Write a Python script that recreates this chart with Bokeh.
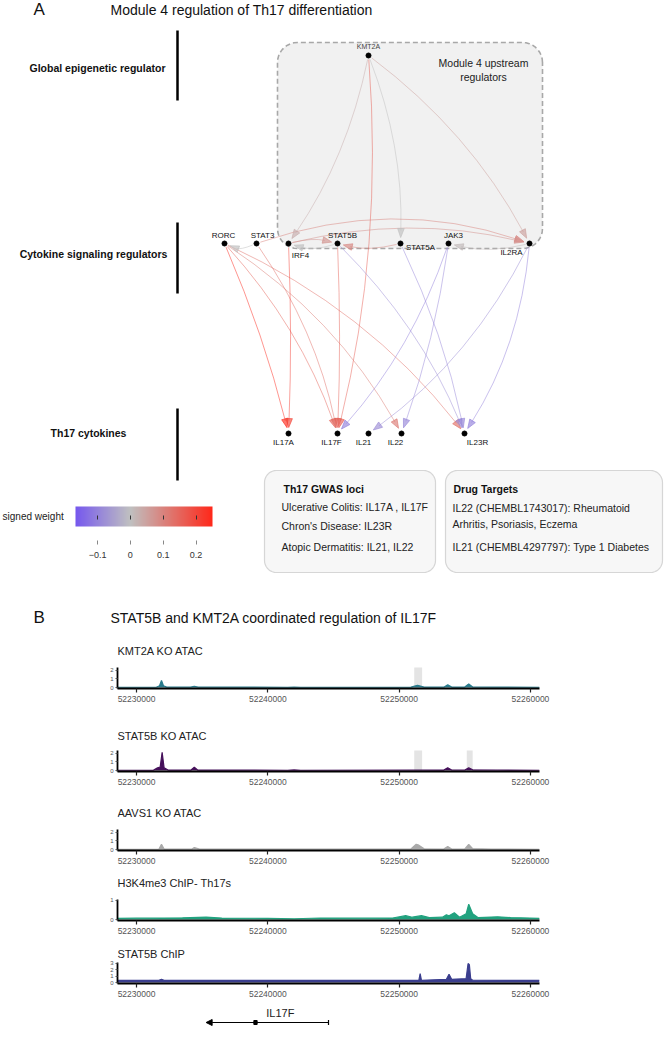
import numpy as np
from bokeh.plotting import figure
from bokeh.models import (ColumnDataSource, Range1d, LinearColorMapper, ColorBar,
                          FixedTicker, BasicTickFormatter, Label, BoxAnnotation,
                          Arrow, NormalHead)
from bokeh.layouts import column
from bokeh.transform import transform
from bokeh.core.properties import value
from bokeh.embed import file_html
from bokeh.resources import INLINE

FONT = "Liberation Sans"

# ------------------------------------------------------------------ data: panel A
panel_a_title = "Module 4 regulation of Th17 differentiation"
tier_labels = ["Global epigenetic regulator", "Cytokine signaling regulators", "Th17 cytokines"]
module_label = ["Module 4 upstream", "regulators"]
node_names = ["KMT2A", "RORC", "STAT3", "IRF4", "STAT5B", "STAT5A", "JAK3", "IL2RA",
              "IL17A", "IL17F", "IL21", "IL22", "IL23R"]
edge_src = ["KMT2A", "KMT2A", "KMT2A", "KMT2A", "IRF4", "STAT5A", "STAT3", "IRF4",
            "IL2RA", "STAT3", "STAT5B", "RORC", "RORC", "RORC", "RORC", "STAT3",
            "IRF4", "STAT5B", "STAT5B", "STAT5A", "JAK3", "JAK3", "IL2RA", "IL2RA"]
edge_tgt = ["IRF4", "STAT5A", "IL2RA", "IL17F", "STAT5B", "STAT5B", "IL2RA", "IL2RA",
            "JAK3", "RORC", "IRF4", "IL17A", "IL17F", "IL22", "IL23R", "IL17F",
            "IL17A", "IL17F", "IL23R", "IL23R", "IL17F", "IL22", "IL21", "IL23R"]
edge_weight = [0.03, 0.0, 0.05, 0.16, 0.07, 0.09, 0.10, 0.08,
               0.01, 0.0, 0.0, 0.24, 0.15, 0.11, 0.13, 0.13,
               0.20, 0.15, -0.08, -0.09, -0.10, -0.09, -0.08, -0.10]
weight_ticks = [-0.1, 0.0, 0.1, 0.2]
weight_low, weight_high = -0.167, 0.25
weight_title = "signed  weight"
gwas_title = "Th17 GWAS loci"
gwas_lines = ["Ulcerative Colitis: IL17A , IL17F", "Chron's Disease: IL23R",
              "Atopic Dermatitis: IL21, IL22"]
drug_title = "Drug Targets"
drug_lines = ["IL22 (CHEMBL1743017): Rheumatoid", "Arhritis, Psoriasis, Eczema",
              "IL21 (CHEMBL4297797): Type 1 Diabetes"]

# ------------------------------------------------------------------ data: panel B
panel_b_title = "STAT5B and KMT2A coordinated regulation of IL17F"
track_titles = ["KMT2A KO ATAC", "STAT5B KO ATAC", "AAVS1 KO ATAC",
                "H3K4me3 ChIP- Th17s", "STAT5B ChIP"]
genome_ticks = [52230000, 52240000, 52250000, 52260000]
genome_start, genome_end = 52228550, 52260690

kmt2a_ko_pos = [52228550, 52231500, 52231750, 52231900, 52232050, 52232300, 52234100, 52234400,
                52234700, 52241500, 52242000, 52242500, 52250900, 52251400, 52251900, 52253400,
                52253700, 52254000, 52255000, 52255300, 52255600, 52257000, 52260690]
kmt2a_ko_sig = [0.03, 0.03, 0.2, 0.8, 0.2, 0.04, 0.04, 0.12,
                0.04, 0.03, 0.06, 0.03, 0.04, 0.25, 0.05, 0.04,
                0.3, 0.05, 0.05, 0.42, 0.06, 0.04, 0.03]
kmt2a_ko_hl = [(52251150, 52251750)]

stat5b_ko_pos = [52228550, 52231300, 52231600, 52231800, 52231950, 52232100, 52232400, 52234150,
                 52234400, 52234650, 52241500, 52242000, 52242500, 52251400, 52253400, 52253700,
                 52254000, 52255000, 52255300, 52255600, 52257500, 52260690]
stat5b_ko_sig = [0.03, 0.05, 0.3, 0.4, 2.1, 0.3, 0.05, 0.05,
                 0.38, 0.05, 0.03, 0.07, 0.03, 0.06, 0.05, 0.32,
                 0.06, 0.06, 0.3, 0.08, 0.06, 0.03]
stat5b_ko_hl = [(52251150, 52251750), (52255150, 52255600)]

aavs1_ko_pos = [52228550, 52231700, 52231900, 52232100, 52234200, 52234400, 52234800, 52250900,
                52251300, 52251500, 52251900, 52253400, 52253700, 52254000, 52255000, 52255300,
                52255600, 52257000, 52260690]
aavs1_ko_sig = [0.02, 0.03, 0.6, 0.05, 0.04, 0.22, 0.04, 0.05,
                0.6, 0.5, 0.08, 0.05, 0.35, 0.06, 0.06, 0.6,
                0.1, 0.04, 0.03]

h3k4me3_pos = [52228550, 52230000, 52232000, 52233500, 52235300, 52236500, 52240000, 52242000,
               52244000, 52247000, 52249500, 52250500, 52251000, 52251700, 52252300, 52253300,
               52253600, 52253800, 52254200, 52254600, 52255100, 52255300, 52255600, 52256000,
               52257500, 52258500, 52260690]
h3k4me3_sig = [0.06, 0.07, 0.08, 0.09, 0.12, 0.08, 0.06, 0.04,
               0.08, 0.07, 0.08, 0.2, 0.12, 0.2, 0.1, 0.12,
               0.25, 0.2, 0.35, 0.12, 0.3, 0.8, 0.3, 0.1,
               0.14, 0.1, 0.06]

stat5b_chip_pos = [52228550, 52231700, 52231900, 52232100, 52240000, 52251500, 52251600, 52251700,
                   52253600, 52253800, 52254000, 52255100, 52255250, 52255350, 52255450, 52255600,
                   52260690]
stat5b_chip_sig = [0.33, 0.35, 0.5, 0.35, 0.33, 0.35, 1.4, 0.35,
                   0.5, 1.3, 0.5, 0.6, 3.0, 2.8, 0.6, 0.36,
                   0.33]

gene_name = "IL17F"
gene_start, gene_end = 52235300, 52244620
gene_exon = 52239060

# ------------------------------------------------------------------ layout (page px)
node_pos = {"KMT2A": (368, 55),
            "RORC": (224, 243), "STAT3": (256, 243), "IRF4": (288, 243), "STAT5B": (337, 243),
            "STAT5A": (400, 243), "JAK3": (448, 243), "IL2RA": (529, 243),
            "IL17A": (288, 433), "IL17F": (337, 433), "IL21": (368, 433), "IL22": (401, 433),
            "IL23R": (464, 433)}
label_pos = {"KMT2A": (368, 46), "RORC": (223, 235), "STAT3": (262, 235), "IRF4": (300, 255),
             "STAT5B": (342, 235), "STAT5A": (420, 247), "JAK3": (453, 235), "IL2RA": (511, 252),
             "IL17A": (283, 442), "IL17F": (331, 442), "IL21": (363, 442), "IL22": (395, 442),
             "IL23R": (477, 442)}
edge_rad = [0.10, 0.10, 0.11, 0.08, 0.12, 0.12, 0.17, 0.12,
            0.12, 0.20, 0.15, 0.04, 0.10, 0.12, 0.12, 0.10,
            0.02, 0.02, 0.10, 0.06, 0.10, 0.05, 0.12, 0.12]
tier_label_x = [97, 93, 88]
gene_label_x = 52240950

W = 664
TOP_H = 640
FRAME_L, FRAME_R = 117, 539
# (title centre, x-axis line) for each track, in page px
track_title_y = [650, 735, 812, 882, 953]
track_axis_y = [688, 771, 850, 920, 983]
track_fig_bottom = [725, 802, 872, 943, 1003]
GENE_BOTTOM = 1048


def X(rx):
    return float(rx)


def Y(ry):
    return float(TOP_H - ry)


def rrect(x0, y0, x1, y1, r, n=10):
    """rounded rectangle outline in data coords (x0<x1, y0<y1)"""
    xs, ys = [], []
    for cx, cy, a0 in [(x1 - r, y1 - r, 0), (x0 + r, y1 - r, 90),
                       (x0 + r, y0 + r, 180), (x1 - r, y0 + r, 270)]:
        for a in np.linspace(a0, a0 + 90, n):
            xs.append(cx + r * np.cos(np.radians(a)))
            ys.append(cy + r * np.sin(np.radians(a)))
    return xs, ys


# palette: purple -> grey (at 0) -> red
c_lo, c_mid, c_hi = np.array([118, 88, 238]), np.array([192, 192, 192]), np.array([255, 40, 26])
zero_frac = (0 - weight_low) / (weight_high - weight_low)
palette = []
for f in np.linspace(0, 1, 256):
    if f <= zero_frac:
        c = c_lo + (c_mid - c_lo) * (f / zero_frac)
    else:
        c = c_mid + (c_hi - c_mid) * ((f - zero_frac) / (1 - zero_frac))
    palette.append("#%02x%02x%02x" % tuple(int(round(v)) for v in c))
mapper = LinearColorMapper(palette=palette, low=weight_low, high=weight_high)

# ------------------------------------------------------------------ panel A figure
top = figure(width=W, height=TOP_H, x_range=Range1d(0, W), y_range=Range1d(0, TOP_H),
             x_axis_location=None, y_axis_location=None, output_backend="svg",
             toolbar_location=None, min_border=0, outline_line_color=None,
             frame_align=False)
top.grid.visible = False

# module box
bx, by = rrect(X(277), Y(248), X(542), Y(42), 20)
top.patch(bx, by, fill_color="#F1F1F1", line_color="#A8A8A8", line_dash="5 3", line_width=1.6)

# edges
e = dict(x0=[], y0=[], x1=[], y1=[], cx=[], cy=[], hx=[], hy=[], w=[])
for s, t, w, rad in zip(edge_src, edge_tgt, edge_weight, edge_rad):
    p0 = np.array([X(node_pos[s][0]), Y(node_pos[s][1])])
    p2 = np.array([X(node_pos[t][0]), Y(node_pos[t][1])])
    d = p2 - p0
    c = (p0 + p2) / 2 + rad * np.array([-d[1], d[0]])
    u0 = (c - p0) / np.linalg.norm(c - p0)
    u1 = (p2 - c) / np.linalg.norm(p2 - c)
    start = p0 + 4 * u0
    tip = p2 - 6 * u1
    base = tip - 9 * u1
    nrm = np.array([-u1[1], u1[0]])
    end = base + 2 * u1
    e["x0"].append(start[0]); e["y0"].append(start[1])
    e["x1"].append(end[0]); e["y1"].append(end[1])
    e["cx"].append(c[0]); e["cy"].append(c[1])
    hv = [tip, base + 3.3 * nrm, base - 3.3 * nrm]
    e["hx"].append([v[0] for v in hv]); e["hy"].append([v[1] for v in hv])
    e["w"].append(w)
esrc = ColumnDataSource(e)
top.quadratic(x0="x0", y0="y0", x1="x1", y1="y1", cx="cx", cy="cy", source=esrc,
              line_color=transform("w", mapper), line_width=1.0, line_alpha=0.5)
top.patches(xs="hx", ys="hy", source=esrc, fill_color=transform("w", mapper),
            line_color=transform("w", mapper), fill_alpha=0.65, line_alpha=0.65)

# nodes
top.scatter([X(node_pos[n][0]) for n in node_names], [Y(node_pos[n][1]) for n in node_names],
            size=5, color="black")
lbl_names = [n for n in node_names if n != "KMT2A"]
top.text([X(label_pos[n][0]) for n in lbl_names], [Y(label_pos[n][1]) for n in lbl_names],
         text=lbl_names, text_align="center", text_baseline="middle", text_font_size="8px",
         text_font=value(FONT), text_color="#111111")
top.text([X(label_pos["KMT2A"][0])], [Y(label_pos["KMT2A"][1])], text=["KMT2A"],
         text_align="center", text_baseline="middle", text_font_size="7px",
         text_font=value(FONT), text_color="#444444")

# module label
top.text([X(483), X(483)], [Y(62), Y(76)], text=module_label, text_align="center",
         text_baseline="middle", text_font_size="10.5px", text_font=value(FONT),
         text_color="#222222")

# tier labels and bars
top.text([X(v) for v in tier_label_x], [Y(67), Y(253), Y(432)], text=tier_labels,
         text_align="center", text_baseline="middle", text_font_size="10.5px",
         text_font_style="bold", text_font=value(FONT), text_color="#111111")
top.segment(x0=[X(177)] * 3, x1=[X(177)] * 3, y0=[Y(30), Y(222), Y(408)],
            y1=[Y(100), Y(293), Y(480)], line_color="black", line_width=2.5)

# titles
top.text([X(33)], [Y(9)], text=["A"], text_baseline="middle", text_font_size="17px",
         text_font=value(FONT), text_color="#111111")
top.text([X(110)], [Y(9)], text=[panel_a_title], text_baseline="middle",
         text_font_size="14px", text_font=value(FONT), text_color="#111111")
top.text([X(33)], [Y(617)], text=["B"], text_baseline="middle", text_font_size="17px",
         text_font=value(FONT), text_color="#111111")
top.text([X(110)], [Y(617)], text=[panel_b_title], text_baseline="middle",
         text_font_size="14px", text_font=value(FONT), text_color="#111111")

# colour bar legend
top.text([X(66)], [Y(516)], text=[weight_title], text_align="right", text_baseline="middle",
         text_font_size="10px", text_font=value(FONT), text_color="#222222")
cb_bar = ColorBar(color_mapper=mapper, orientation="horizontal", location=(X(75), Y(526)),
                  width=137, height=20, padding=0, margin=0, ticker=FixedTicker(ticks=[]),
                  bar_line_color=None, background_fill_alpha=0, border_line_color=None)
cb_in = ColorBar(color_mapper=mapper, orientation="horizontal", location=(X(75), Y(519)),
                 width=137, height=4, padding=0, margin=0, scale_alpha=0,
                 ticker=FixedTicker(ticks=weight_ticks), major_tick_in=4, major_tick_out=0,
                 major_tick_line_color="#333333", major_label_text_font_size="1px",
                 major_label_text_alpha=0, label_standoff=0, bar_line_color=None,
                 background_fill_alpha=0, border_line_color=None)
cb_out = ColorBar(color_mapper=mapper, orientation="horizontal", location=(X(75), Y(560)),
                  width=137, height=1, padding=0, margin=0, scale_alpha=0,
                  ticker=FixedTicker(ticks=weight_ticks), major_tick_in=0, major_tick_out=4,
                  major_tick_line_color="#888888", major_label_text_font_size="9px",
                  major_label_text_color="#333333", major_label_text_font=FONT,
                  label_standoff=7, bar_line_color=None, background_fill_alpha=0,
                  border_line_color=None)
for cb in (cb_bar, cb_in, cb_out):
    top.add_layout(cb, "center")

# text boxes
gx, gy = rrect(X(264), Y(572), X(435), Y(470), 12)
top.patch(gx, gy, fill_color="#F7F7F7", line_color="#D6D6D6", line_width=1.2)
dx_, dy_ = rrect(X(445), Y(572), X(662), Y(470), 12)
top.patch(dx_, dy_, fill_color="#F7F7F7", line_color="#D6D6D6", line_width=1.2)
top.text([X(283)], [Y(488)], text=[gwas_title], text_baseline="middle", text_font_size="10.5px",
         text_font_style="bold", text_font=value(FONT), text_color="#111111")
top.text([X(281)] * 3, [Y(506), Y(525), Y(546)], text=gwas_lines, text_baseline="middle",
         text_font_size="10.5px", text_font=value(FONT), text_color="#222222")
top.text([X(453)], [Y(488)], text=[drug_title], text_baseline="middle", text_font_size="10.5px",
         text_font_style="bold", text_font=value(FONT), text_color="#111111")
top.text([X(452)] * 3, [Y(507), Y(523), Y(546)], text=drug_lines, text_baseline="middle",
         text_font_size="10.5px", text_font=value(FONT), text_color="#222222")

# ------------------------------------------------------------------ panel B tracks
x_rng = Range1d(genome_start, genome_end)


def make_track(k, title, xs, ys, color, top_val, ticks, highlights):
    fig_top = track_title_y[k] - 10
    fig_h = track_fig_bottom[k] - fig_top
    frame_h = track_axis_y[k] - fig_top
    ppu = 20.0 / top_val
    p = figure(width=W, height=fig_h, x_range=x_rng,
               y_range=Range1d(-1.0 / ppu, (frame_h - 1.0) / ppu),
               output_backend="svg", toolbar_location=None, frame_align=False,
               min_border_left=FRAME_L, min_border_right=W - FRAME_R, min_border_top=0,
               min_border_bottom=fig_h - frame_h, outline_line_color=None)
    p.grid.visible = False
    for a, b in highlights:
        p.add_layout(BoxAnnotation(left=a, right=b, bottom=0, top=top_val,
                                   fill_color="#E4E4E4", fill_alpha=1.0, line_color=None,
                                   level="underlay"))
    src = ColumnDataSource(dict(x=xs, y=ys))
    p.varea(x="x", y1=0, y2="y", source=src, fill_color=color)
    p.line("x", "y", source=src, line_color=color, line_width=1.2)
    xa = p.xaxis[0]
    xa.ticker = FixedTicker(ticks=genome_ticks)
    xa.formatter = BasicTickFormatter(use_scientific=False)
    xa.major_label_text_font_size = "8.5px"
    xa.major_label_text_color = "#555555"
    xa.major_label_text_font = FONT
    xa.major_tick_out = 4
    xa.major_tick_in = 0
    xa.major_tick_line_color = "#222222"
    xa.major_tick_line_width = 1.2
    xa.minor_tick_line_color = None
    xa.axis_line_width = 2
    xa.major_label_standoff = 3
    ya = p.yaxis[0]
    ya.ticker = FixedTicker(ticks=ticks)
    ya.bounds = (-1.0 / ppu, top_val)
    ya.major_label_text_font_size = "6px"
    ya.major_label_text_color = "#555555"
    ya.major_label_text_font = FONT
    ya.major_tick_out = 2
    ya.major_tick_in = 0
    ya.major_tick_line_color = "#555555"
    ya.minor_tick_line_color = None
    ya.axis_line_width = 1.8
    ya.major_label_standoff = 2
    p.add_layout(Label(x=0, y=track_axis_y[k] - track_title_y[k], x_units="screen",
                       y_units="screen", text=title, text_font_size="11px", text_font=FONT,
                       text_baseline="middle", text_color="#222222"))
    return p


tracks = [
    make_track(0, track_titles[0], kmt2a_ko_pos, kmt2a_ko_sig, "#2A7B8C", 2.3, [0, 1, 2], kmt2a_ko_hl),
    make_track(1, track_titles[1], stat5b_ko_pos, stat5b_ko_sig, "#45105A", 2.3, [0, 1, 2], stat5b_ko_hl),
    make_track(2, track_titles[2], aavs1_ko_pos, aavs1_ko_sig, "#AAAAAA", 2.3, [0, 1, 2], []),
    make_track(3, track_titles[3], h3k4me3_pos, h3k4me3_sig, "#22A27F", 1.05, [0, 1], []),
    make_track(4, track_titles[4], stat5b_chip_pos, stat5b_chip_sig, "#3B3E8E", 3.15, [0, 1, 2, 3], []),
]

# gene annotation
GENE_H = GENE_BOTTOM - track_fig_bottom[-1]
g = figure(width=W, height=GENE_H, x_range=x_rng, y_range=Range1d(0, GENE_H),
           x_axis_location=None, y_axis_location=None, output_backend="svg",
           toolbar_location=None, min_border_left=FRAME_L, min_border_right=W - FRAME_R,
           min_border_top=0, min_border_bottom=0, outline_line_color=None, frame_align=False)
g.grid.visible = False
arrow_y = GENE_H - (1022 - track_fig_bottom[-1])
label_y = GENE_H - (1012 - track_fig_bottom[-1])
g.add_layout(Arrow(end=NormalHead(size=6, fill_color="black", line_color="black"),
                   x_start=gene_end, y_start=arrow_y, x_end=gene_start, y_end=arrow_y,
                   line_color="black", line_width=1.2))
g.segment(x0=[gene_end], x1=[gene_end], y0=[arrow_y - 2.5], y1=[arrow_y + 2.5],
          line_color="black", line_width=1.2)
g.rect(x=[gene_exon], y=[arrow_y], width=250, height=4, color="black")
g.text([gene_label_x], [label_y], text=[gene_name], text_align="center",
       text_baseline="middle", text_font_size="11px", text_font=value(FONT),
       text_color="#222222")

layout = column(top, *tracks, g, spacing=0)
open("out.html", "w").write(file_html(layout, INLINE))
